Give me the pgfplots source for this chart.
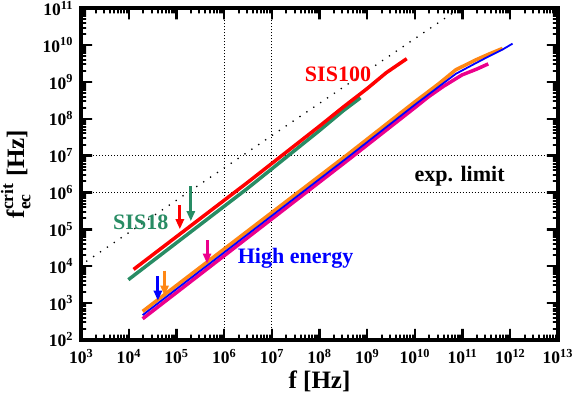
\documentclass[border=0pt]{standalone}
\usepackage{fontspec}
\setmainfont{Liberation Serif}
\usepackage{amsmath}
\usepackage{pgfplots}
\pgfplotsset{compat=1.18}
\usetikzlibrary{arrows.meta}
\definecolor{sisgreen}{RGB}{40,140,100}
\definecolor{heorange}{RGB}{255,135,20}
\newcommand{\tl}[1]{\textbf{10\textsuperscript{#1}}}
\begin{document}
\begin{tikzpicture}
\begin{loglogaxis}[
  scale only axis, width=476pt, height=331pt,
  xmin=1e3, xmax=1e13, ymin=1e2, ymax=1e11,
  xtick={1e3,1e4,1e5,1e6,1e7,1e8,1e9,1e10,1e11,1e12,1e13},
  xticklabels={\tl{3},\tl{4},\tl{5},\tl{6},\tl{7},\tl{8},\tl{9},\tl{10},\tl{11},\tl{12},\tl{13}},
  ytick={1e2,1e3,1e4,1e5,1e6,1e7,1e8,1e9,1e10,1e11},
  yticklabels={\tl{2},\tl{3},\tl{4},\tl{5},\tl{6},\tl{7},\tl{8},\tl{9},\tl{10},\tl{11}},
  tick align=inside,
  major tick length=0pt, minor tick length=0pt,
  ticklabel style={font=\fontsize{17.5}{17.5}\selectfont, inner sep=1pt},
  xticklabel style={yshift=-8pt},
  yticklabel style={xshift=-7pt},
  xlabel={\textbf{f [Hz]}},
  ylabel={$\textbf{f}_{\textbf{ec}}^{\textbf{crit}}$ \textbf{[Hz]}},
  label style={font=\fontsize{25}{25}\selectfont, inner sep=1pt},
  xlabel style={yshift=-5pt},
  ylabel style={yshift=10pt},
  clip=false,
]
% major ticks
\addplot[black, line width=2.5pt, line join=bevel, forget plot] coordinates {
 (1e3,100)(1e4,100)(1e4,199)(1e4,100)(1e5,100)(1e5,199)(1e5,100)(1e6,100)(1e6,199)(1e6,100)
 (1e7,100)(1e7,199)(1e7,100)(1e8,100)(1e8,199)(1e8,100)(1e9,100)(1e9,199)(1e9,100)
 (1e10,100)(1e10,199)(1e10,100)(1e11,100)(1e11,199)(1e11,100)(1e12,100)(1e12,199)(1e12,100)(1e13,100)};
\addplot[black, line width=2.5pt, line join=bevel, forget plot] coordinates {
 (1e3,1e11)(1e4,1e11)(1e4,5.03e10)(1e4,1e11)(1e5,1e11)(1e5,5.03e10)(1e5,1e11)(1e6,1e11)(1e6,5.03e10)(1e6,1e11)
 (1e7,1e11)(1e7,5.03e10)(1e7,1e11)(1e8,1e11)(1e8,5.03e10)(1e8,1e11)(1e9,1e11)(1e9,5.03e10)(1e9,1e11)
 (1e10,1e11)(1e10,5.03e10)(1e10,1e11)(1e11,1e11)(1e11,5.03e10)(1e11,1e11)(1e12,1e11)(1e12,5.03e10)(1e12,1e11)(1e13,1e11)};
\addplot[black, line width=2.5pt, line join=bevel, forget plot] coordinates {
 (1e3,1e2)(1e3,1e3)(1.7e3,1e3)(1e3,1e3)(1e3,1e4)(1.7e3,1e4)(1e3,1e4)(1e3,1e5)(1.7e3,1e5)(1e3,1e5)
 (1e3,1e6)(1.7e3,1e6)(1e3,1e6)(1e3,1e7)(1.7e3,1e7)(1e3,1e7)(1e3,1e8)(1.7e3,1e8)(1e3,1e8)
 (1e3,1e9)(1.7e3,1e9)(1e3,1e9)(1e3,1e10)(1.7e3,1e10)(1e3,1e10)(1e3,1e11)};
\addplot[black, line width=2.5pt, line join=bevel, forget plot] coordinates {
 (1e13,1e2)(1e13,1e3)(5.88e12,1e3)(1e13,1e3)(1e13,1e4)(5.88e12,1e4)(1e13,1e4)(1e13,1e5)(5.88e12,1e5)(1e13,1e5)
 (1e13,1e6)(5.88e12,1e6)(1e13,1e6)(1e13,1e7)(5.88e12,1e7)(1e13,1e7)(1e13,1e8)(5.88e12,1e8)(1e13,1e8)
 (1e13,1e9)(5.88e12,1e9)(1e13,1e9)(1e13,1e10)(5.88e12,1e10)(1e13,1e10)(1e13,1e11)};
% minor ticks, bottom
\addplot[black, line width=2pt, line join=bevel, forget plot] coordinates {
 (2e3,100)(2e3,137)(2e3,100)(3e3,100)(3e3,137)(3e3,100)(4e3,100)(4e3,137)(4e3,100)(5e3,100)(5e3,137)(5e3,100)(6e3,100)(6e3,137)(6e3,100)(7e3,100)(7e3,137)(7e3,100)(8e3,100)(8e3,137)(8e3,100)(9e3,100)(9e3,137)(9e3,100)
 (2e4,100)(2e4,137)(2e4,100)(3e4,100)(3e4,137)(3e4,100)(4e4,100)(4e4,137)(4e4,100)(5e4,100)(5e4,137)(5e4,100)(6e4,100)(6e4,137)(6e4,100)(7e4,100)(7e4,137)(7e4,100)(8e4,100)(8e4,137)(8e4,100)(9e4,100)(9e4,137)(9e4,100)
 (2e5,100)(2e5,137)(2e5,100)(3e5,100)(3e5,137)(3e5,100)(4e5,100)(4e5,137)(4e5,100)(5e5,100)(5e5,137)(5e5,100)(6e5,100)(6e5,137)(6e5,100)(7e5,100)(7e5,137)(7e5,100)(8e5,100)(8e5,137)(8e5,100)(9e5,100)(9e5,137)(9e5,100)
 (2e6,100)(2e6,137)(2e6,100)(3e6,100)(3e6,137)(3e6,100)(4e6,100)(4e6,137)(4e6,100)(5e6,100)(5e6,137)(5e6,100)(6e6,100)(6e6,137)(6e6,100)(7e6,100)(7e6,137)(7e6,100)(8e6,100)(8e6,137)(8e6,100)(9e6,100)(9e6,137)(9e6,100)
 (2e7,100)(2e7,137)(2e7,100)(3e7,100)(3e7,137)(3e7,100)(4e7,100)(4e7,137)(4e7,100)(5e7,100)(5e7,137)(5e7,100)(6e7,100)(6e7,137)(6e7,100)(7e7,100)(7e7,137)(7e7,100)(8e7,100)(8e7,137)(8e7,100)(9e7,100)(9e7,137)(9e7,100)
 (2e8,100)(2e8,137)(2e8,100)(3e8,100)(3e8,137)(3e8,100)(4e8,100)(4e8,137)(4e8,100)(5e8,100)(5e8,137)(5e8,100)(6e8,100)(6e8,137)(6e8,100)(7e8,100)(7e8,137)(7e8,100)(8e8,100)(8e8,137)(8e8,100)(9e8,100)(9e8,137)(9e8,100)
 (2e9,100)(2e9,137)(2e9,100)(3e9,100)(3e9,137)(3e9,100)(4e9,100)(4e9,137)(4e9,100)(5e9,100)(5e9,137)(5e9,100)(6e9,100)(6e9,137)(6e9,100)(7e9,100)(7e9,137)(7e9,100)(8e9,100)(8e9,137)(8e9,100)(9e9,100)(9e9,137)(9e9,100)
 (2e10,100)(2e10,137)(2e10,100)(3e10,100)(3e10,137)(3e10,100)(4e10,100)(4e10,137)(4e10,100)(5e10,100)(5e10,137)(5e10,100)(6e10,100)(6e10,137)(6e10,100)(7e10,100)(7e10,137)(7e10,100)(8e10,100)(8e10,137)(8e10,100)(9e10,100)(9e10,137)(9e10,100)
 (2e11,100)(2e11,137)(2e11,100)(3e11,100)(3e11,137)(3e11,100)(4e11,100)(4e11,137)(4e11,100)(5e11,100)(5e11,137)(5e11,100)(6e11,100)(6e11,137)(6e11,100)(7e11,100)(7e11,137)(7e11,100)(8e11,100)(8e11,137)(8e11,100)(9e11,100)(9e11,137)(9e11,100)
 (2e12,100)(2e12,137)(2e12,100)(3e12,100)(3e12,137)(3e12,100)(4e12,100)(4e12,137)(4e12,100)(5e12,100)(5e12,137)(5e12,100)(6e12,100)(6e12,137)(6e12,100)(7e12,100)(7e12,137)(7e12,100)(8e12,100)(8e12,137)(8e12,100)(9e12,100)(9e12,137)(9e12,100)};
% minor ticks, top
\addplot[black, line width=2pt, line join=bevel, forget plot] coordinates {
 (2e3,1e11)(2e3,7.3e10)(2e3,1e11)(3e3,1e11)(3e3,7.3e10)(3e3,1e11)(4e3,1e11)(4e3,7.3e10)(4e3,1e11)(5e3,1e11)(5e3,7.3e10)(5e3,1e11)(6e3,1e11)(6e3,7.3e10)(6e3,1e11)(7e3,1e11)(7e3,7.3e10)(7e3,1e11)(8e3,1e11)(8e3,7.3e10)(8e3,1e11)(9e3,1e11)(9e3,7.3e10)(9e3,1e11)
 (2e4,1e11)(2e4,7.3e10)(2e4,1e11)(3e4,1e11)(3e4,7.3e10)(3e4,1e11)(4e4,1e11)(4e4,7.3e10)(4e4,1e11)(5e4,1e11)(5e4,7.3e10)(5e4,1e11)(6e4,1e11)(6e4,7.3e10)(6e4,1e11)(7e4,1e11)(7e4,7.3e10)(7e4,1e11)(8e4,1e11)(8e4,7.3e10)(8e4,1e11)(9e4,1e11)(9e4,7.3e10)(9e4,1e11)
 (2e5,1e11)(2e5,7.3e10)(2e5,1e11)(3e5,1e11)(3e5,7.3e10)(3e5,1e11)(4e5,1e11)(4e5,7.3e10)(4e5,1e11)(5e5,1e11)(5e5,7.3e10)(5e5,1e11)(6e5,1e11)(6e5,7.3e10)(6e5,1e11)(7e5,1e11)(7e5,7.3e10)(7e5,1e11)(8e5,1e11)(8e5,7.3e10)(8e5,1e11)(9e5,1e11)(9e5,7.3e10)(9e5,1e11)
 (2e6,1e11)(2e6,7.3e10)(2e6,1e11)(3e6,1e11)(3e6,7.3e10)(3e6,1e11)(4e6,1e11)(4e6,7.3e10)(4e6,1e11)(5e6,1e11)(5e6,7.3e10)(5e6,1e11)(6e6,1e11)(6e6,7.3e10)(6e6,1e11)(7e6,1e11)(7e6,7.3e10)(7e6,1e11)(8e6,1e11)(8e6,7.3e10)(8e6,1e11)(9e6,1e11)(9e6,7.3e10)(9e6,1e11)
 (2e7,1e11)(2e7,7.3e10)(2e7,1e11)(3e7,1e11)(3e7,7.3e10)(3e7,1e11)(4e7,1e11)(4e7,7.3e10)(4e7,1e11)(5e7,1e11)(5e7,7.3e10)(5e7,1e11)(6e7,1e11)(6e7,7.3e10)(6e7,1e11)(7e7,1e11)(7e7,7.3e10)(7e7,1e11)(8e7,1e11)(8e7,7.3e10)(8e7,1e11)(9e7,1e11)(9e7,7.3e10)(9e7,1e11)
 (2e8,1e11)(2e8,7.3e10)(2e8,1e11)(3e8,1e11)(3e8,7.3e10)(3e8,1e11)(4e8,1e11)(4e8,7.3e10)(4e8,1e11)(5e8,1e11)(5e8,7.3e10)(5e8,1e11)(6e8,1e11)(6e8,7.3e10)(6e8,1e11)(7e8,1e11)(7e8,7.3e10)(7e8,1e11)(8e8,1e11)(8e8,7.3e10)(8e8,1e11)(9e8,1e11)(9e8,7.3e10)(9e8,1e11)
 (2e9,1e11)(2e9,7.3e10)(2e9,1e11)(3e9,1e11)(3e9,7.3e10)(3e9,1e11)(4e9,1e11)(4e9,7.3e10)(4e9,1e11)(5e9,1e11)(5e9,7.3e10)(5e9,1e11)(6e9,1e11)(6e9,7.3e10)(6e9,1e11)(7e9,1e11)(7e9,7.3e10)(7e9,1e11)(8e9,1e11)(8e9,7.3e10)(8e9,1e11)(9e9,1e11)(9e9,7.3e10)(9e9,1e11)
 (2e10,1e11)(2e10,7.3e10)(2e10,1e11)(3e10,1e11)(3e10,7.3e10)(3e10,1e11)(4e10,1e11)(4e10,7.3e10)(4e10,1e11)(5e10,1e11)(5e10,7.3e10)(5e10,1e11)(6e10,1e11)(6e10,7.3e10)(6e10,1e11)(7e10,1e11)(7e10,7.3e10)(7e10,1e11)(8e10,1e11)(8e10,7.3e10)(8e10,1e11)(9e10,1e11)(9e10,7.3e10)(9e10,1e11)
 (2e11,1e11)(2e11,7.3e10)(2e11,1e11)(3e11,1e11)(3e11,7.3e10)(3e11,1e11)(4e11,1e11)(4e11,7.3e10)(4e11,1e11)(5e11,1e11)(5e11,7.3e10)(5e11,1e11)(6e11,1e11)(6e11,7.3e10)(6e11,1e11)(7e11,1e11)(7e11,7.3e10)(7e11,1e11)(8e11,1e11)(8e11,7.3e10)(8e11,1e11)(9e11,1e11)(9e11,7.3e10)(9e11,1e11)
 (2e12,1e11)(2e12,7.3e10)(2e12,1e11)(3e12,1e11)(3e12,7.3e10)(3e12,1e11)(4e12,1e11)(4e12,7.3e10)(4e12,1e11)(5e12,1e11)(5e12,7.3e10)(5e12,1e11)(6e12,1e11)(6e12,7.3e10)(6e12,1e11)(7e12,1e11)(7e12,7.3e10)(7e12,1e11)(8e12,1e11)(8e12,7.3e10)(8e12,1e11)(9e12,1e11)(9e12,7.3e10)(9e12,1e11)};
% minor ticks, left
\addplot[black, line width=2pt, line join=bevel, forget plot] coordinates {
 (1e3,2e2)(1.27e3,2e2)(1e3,2e2)(1e3,3e2)(1.27e3,3e2)(1e3,3e2)(1e3,4e2)(1.27e3,4e2)(1e3,4e2)(1e3,5e2)(1.27e3,5e2)(1e3,5e2)(1e3,6e2)(1.27e3,6e2)(1e3,6e2)(1e3,7e2)(1.27e3,7e2)(1e3,7e2)(1e3,8e2)(1.27e3,8e2)(1e3,8e2)(1e3,9e2)(1.27e3,9e2)(1e3,9e2)
 (1e3,2e3)(1.27e3,2e3)(1e3,2e3)(1e3,3e3)(1.27e3,3e3)(1e3,3e3)(1e3,4e3)(1.27e3,4e3)(1e3,4e3)(1e3,5e3)(1.27e3,5e3)(1e3,5e3)(1e3,6e3)(1.27e3,6e3)(1e3,6e3)(1e3,7e3)(1.27e3,7e3)(1e3,7e3)(1e3,8e3)(1.27e3,8e3)(1e3,8e3)(1e3,9e3)(1.27e3,9e3)(1e3,9e3)
 (1e3,2e4)(1.27e3,2e4)(1e3,2e4)(1e3,3e4)(1.27e3,3e4)(1e3,3e4)(1e3,4e4)(1.27e3,4e4)(1e3,4e4)(1e3,5e4)(1.27e3,5e4)(1e3,5e4)(1e3,6e4)(1.27e3,6e4)(1e3,6e4)(1e3,7e4)(1.27e3,7e4)(1e3,7e4)(1e3,8e4)(1.27e3,8e4)(1e3,8e4)(1e3,9e4)(1.27e3,9e4)(1e3,9e4)
 (1e3,2e5)(1.27e3,2e5)(1e3,2e5)(1e3,3e5)(1.27e3,3e5)(1e3,3e5)(1e3,4e5)(1.27e3,4e5)(1e3,4e5)(1e3,5e5)(1.27e3,5e5)(1e3,5e5)(1e3,6e5)(1.27e3,6e5)(1e3,6e5)(1e3,7e5)(1.27e3,7e5)(1e3,7e5)(1e3,8e5)(1.27e3,8e5)(1e3,8e5)(1e3,9e5)(1.27e3,9e5)(1e3,9e5)
 (1e3,2e6)(1.27e3,2e6)(1e3,2e6)(1e3,3e6)(1.27e3,3e6)(1e3,3e6)(1e3,4e6)(1.27e3,4e6)(1e3,4e6)(1e3,5e6)(1.27e3,5e6)(1e3,5e6)(1e3,6e6)(1.27e3,6e6)(1e3,6e6)(1e3,7e6)(1.27e3,7e6)(1e3,7e6)(1e3,8e6)(1.27e3,8e6)(1e3,8e6)(1e3,9e6)(1.27e3,9e6)(1e3,9e6)
 (1e3,2e7)(1.27e3,2e7)(1e3,2e7)(1e3,3e7)(1.27e3,3e7)(1e3,3e7)(1e3,4e7)(1.27e3,4e7)(1e3,4e7)(1e3,5e7)(1.27e3,5e7)(1e3,5e7)(1e3,6e7)(1.27e3,6e7)(1e3,6e7)(1e3,7e7)(1.27e3,7e7)(1e3,7e7)(1e3,8e7)(1.27e3,8e7)(1e3,8e7)(1e3,9e7)(1.27e3,9e7)(1e3,9e7)
 (1e3,2e8)(1.27e3,2e8)(1e3,2e8)(1e3,3e8)(1.27e3,3e8)(1e3,3e8)(1e3,4e8)(1.27e3,4e8)(1e3,4e8)(1e3,5e8)(1.27e3,5e8)(1e3,5e8)(1e3,6e8)(1.27e3,6e8)(1e3,6e8)(1e3,7e8)(1.27e3,7e8)(1e3,7e8)(1e3,8e8)(1.27e3,8e8)(1e3,8e8)(1e3,9e8)(1.27e3,9e8)(1e3,9e8)
 (1e3,2e9)(1.27e3,2e9)(1e3,2e9)(1e3,3e9)(1.27e3,3e9)(1e3,3e9)(1e3,4e9)(1.27e3,4e9)(1e3,4e9)(1e3,5e9)(1.27e3,5e9)(1e3,5e9)(1e3,6e9)(1.27e3,6e9)(1e3,6e9)(1e3,7e9)(1.27e3,7e9)(1e3,7e9)(1e3,8e9)(1.27e3,8e9)(1e3,8e9)(1e3,9e9)(1.27e3,9e9)(1e3,9e9)
 (1e3,2e10)(1.27e3,2e10)(1e3,2e10)(1e3,3e10)(1.27e3,3e10)(1e3,3e10)(1e3,4e10)(1.27e3,4e10)(1e3,4e10)(1e3,5e10)(1.27e3,5e10)(1e3,5e10)(1e3,6e10)(1.27e3,6e10)(1e3,6e10)(1e3,7e10)(1.27e3,7e10)(1e3,7e10)(1e3,8e10)(1.27e3,8e10)(1e3,8e10)(1e3,9e10)(1.27e3,9e10)(1e3,9e10)};
% minor ticks, right
\addplot[black, line width=2pt, line join=bevel, forget plot] coordinates {
 (1e13,2e2)(7.85e12,2e2)(1e13,2e2)(1e13,3e2)(7.85e12,3e2)(1e13,3e2)(1e13,4e2)(7.85e12,4e2)(1e13,4e2)(1e13,5e2)(7.85e12,5e2)(1e13,5e2)(1e13,6e2)(7.85e12,6e2)(1e13,6e2)(1e13,7e2)(7.85e12,7e2)(1e13,7e2)(1e13,8e2)(7.85e12,8e2)(1e13,8e2)(1e13,9e2)(7.85e12,9e2)(1e13,9e2)
 (1e13,2e3)(7.85e12,2e3)(1e13,2e3)(1e13,3e3)(7.85e12,3e3)(1e13,3e3)(1e13,4e3)(7.85e12,4e3)(1e13,4e3)(1e13,5e3)(7.85e12,5e3)(1e13,5e3)(1e13,6e3)(7.85e12,6e3)(1e13,6e3)(1e13,7e3)(7.85e12,7e3)(1e13,7e3)(1e13,8e3)(7.85e12,8e3)(1e13,8e3)(1e13,9e3)(7.85e12,9e3)(1e13,9e3)
 (1e13,2e4)(7.85e12,2e4)(1e13,2e4)(1e13,3e4)(7.85e12,3e4)(1e13,3e4)(1e13,4e4)(7.85e12,4e4)(1e13,4e4)(1e13,5e4)(7.85e12,5e4)(1e13,5e4)(1e13,6e4)(7.85e12,6e4)(1e13,6e4)(1e13,7e4)(7.85e12,7e4)(1e13,7e4)(1e13,8e4)(7.85e12,8e4)(1e13,8e4)(1e13,9e4)(7.85e12,9e4)(1e13,9e4)
 (1e13,2e5)(7.85e12,2e5)(1e13,2e5)(1e13,3e5)(7.85e12,3e5)(1e13,3e5)(1e13,4e5)(7.85e12,4e5)(1e13,4e5)(1e13,5e5)(7.85e12,5e5)(1e13,5e5)(1e13,6e5)(7.85e12,6e5)(1e13,6e5)(1e13,7e5)(7.85e12,7e5)(1e13,7e5)(1e13,8e5)(7.85e12,8e5)(1e13,8e5)(1e13,9e5)(7.85e12,9e5)(1e13,9e5)
 (1e13,2e6)(7.85e12,2e6)(1e13,2e6)(1e13,3e6)(7.85e12,3e6)(1e13,3e6)(1e13,4e6)(7.85e12,4e6)(1e13,4e6)(1e13,5e6)(7.85e12,5e6)(1e13,5e6)(1e13,6e6)(7.85e12,6e6)(1e13,6e6)(1e13,7e6)(7.85e12,7e6)(1e13,7e6)(1e13,8e6)(7.85e12,8e6)(1e13,8e6)(1e13,9e6)(7.85e12,9e6)(1e13,9e6)
 (1e13,2e7)(7.85e12,2e7)(1e13,2e7)(1e13,3e7)(7.85e12,3e7)(1e13,3e7)(1e13,4e7)(7.85e12,4e7)(1e13,4e7)(1e13,5e7)(7.85e12,5e7)(1e13,5e7)(1e13,6e7)(7.85e12,6e7)(1e13,6e7)(1e13,7e7)(7.85e12,7e7)(1e13,7e7)(1e13,8e7)(7.85e12,8e7)(1e13,8e7)(1e13,9e7)(7.85e12,9e7)(1e13,9e7)
 (1e13,2e8)(7.85e12,2e8)(1e13,2e8)(1e13,3e8)(7.85e12,3e8)(1e13,3e8)(1e13,4e8)(7.85e12,4e8)(1e13,4e8)(1e13,5e8)(7.85e12,5e8)(1e13,5e8)(1e13,6e8)(7.85e12,6e8)(1e13,6e8)(1e13,7e8)(7.85e12,7e8)(1e13,7e8)(1e13,8e8)(7.85e12,8e8)(1e13,8e8)(1e13,9e8)(7.85e12,9e8)(1e13,9e8)
 (1e13,2e9)(7.85e12,2e9)(1e13,2e9)(1e13,3e9)(7.85e12,3e9)(1e13,3e9)(1e13,4e9)(7.85e12,4e9)(1e13,4e9)(1e13,5e9)(7.85e12,5e9)(1e13,5e9)(1e13,6e9)(7.85e12,6e9)(1e13,6e9)(1e13,7e9)(7.85e12,7e9)(1e13,7e9)(1e13,8e9)(7.85e12,8e9)(1e13,8e9)(1e13,9e9)(7.85e12,9e9)(1e13,9e9)
 (1e13,2e10)(7.85e12,2e10)(1e13,2e10)(1e13,3e10)(7.85e12,3e10)(1e13,3e10)(1e13,4e10)(7.85e12,4e10)(1e13,4e10)(1e13,5e10)(7.85e12,5e10)(1e13,5e10)(1e13,6e10)(7.85e12,6e10)(1e13,6e10)(1e13,7e10)(7.85e12,7e10)(1e13,7e10)(1e13,8e10)(7.85e12,8e10)(1e13,8e10)(1e13,9e10)(7.85e12,9e10)(1e13,9e10)};
% frame
\addplot[black, line width=4pt, line cap=square, line join=miter, forget plot] coordinates {(1e3,1e2) (1e13,1e2) (1e13,1e11) (1e3,1e11) (1e3,1e2) (1e13,1e2)};
% reference lines
\addplot[black, line width=1pt, dash pattern=on 1pt off 2pt] coordinates {(1e6,1e2) (1e6,1e11)};
\addplot[black, line width=1pt, dash pattern=on 1pt off 2pt] coordinates {(1e7,1e2) (1e7,1e11)};
\addplot[black, line width=1pt, dash pattern=on 1pt off 2pt] coordinates {(1e3,1e6) (1e13,1e6)};
\addplot[black, line width=1pt, dash pattern=on 1pt off 2pt] coordinates {(1e3,1e7) (1e13,1e7)};
\addplot[black, line width=1.3pt, dash pattern=on 1.3pt off 7pt] coordinates {(1.276e3,1.334e4) (6.03e10,7.24e10)};
% SIS18
\addplot[sisgreen, line width=3.5pt] coordinates {
 (9.77e3,4.27e3) (3.09e6,1.288e6) (1e8,4.79e7) (3.162e8,1.66e8) (7.24e8,3.72e8)};
% SIS100
\addplot[red, line width=3.5pt] coordinates {
 (1.259e4,8.13e3) (3.09e6,1.862e6) (1e8,6.31e7) (3.162e8,2.089e8) (1e9,6.61e8) (2.512e9,1.778e9) (6.76e9,4.27e9)};
% high energy
\addplot[magenta, line width=3.5pt] coordinates {
 (1.95e4,372) (3.98e8,7.59e6) (1e10,2.0e8) (1.95e10,3.98e8) (3.98e10,7.59e8) (9.77e10,1.55e9) (2.0e11,2.24e9) (3.47e11,3.09e9)};
\addplot[heorange, line width=3.5pt] coordinates {
 (1.95e4,589) (3.98e8,1.096e7) (1e10,2.88e8) (3.162e10,8.91e8) (7.24e10,2.14e9) (1.905e11,3.98e9) (3.63e11,5.75e9) (6.92e11,8.13e9)};
\addplot[blue, line width=1.8pt] coordinates {
 (1.95e4,468) (3.98e8,9.12e6) (1e10,2.40e8) (3.162e10,7.41e8) (7.24e10,1.66e9) (1.905e11,3.24e9) (3.63e11,5.01e9) (6.92e11,7.59e9) (1.122e12,1.096e10)};
% arrows
\addplot[red, line width=3pt, -{Triangle[width=8pt,length=10pt]}] coordinates {(1.175e5,4.47e5) (1.175e5,1e5)};
\addplot[sisgreen, line width=3pt, -{Triangle[width=8pt,length=10pt]}] coordinates {(2.0e5,1.48e6) (2.0e5,1.66e5)};
\addplot[blue, line width=3pt, -{Triangle[width=8pt,length=10pt]}] coordinates {(4.07e4,5.25e3) (4.07e4,1.15e3)};
\addplot[heorange, line width=3pt, -{Triangle[width=8pt,length=10pt]}] coordinates {(5.62e4,7.59e3) (5.62e4,1.58e3)};
\addplot[magenta, line width=3pt, -{Triangle[width=8pt,length=10pt]}] coordinates {(4.37e5,5.01e4) (4.37e5,1.17e4)};
% labels
\node[red, anchor=base, font=\fontsize{22}{22}\selectfont\bfseries] at (axis cs:2.45e8,1e9) {SIS100};
\node[sisgreen, anchor=base, font=\fontsize{22}{22}\selectfont\bfseries] at (axis cs:1.78e4,1e5) {SIS18};
\node[blue, anchor=base, font=\fontsize{22}{22}\selectfont\bfseries] at (axis cs:3.16e7,1.17e4) {High energy};
\node[black, anchor=base, font=\fontsize{22}{22}\selectfont\bfseries] at (axis cs:8.7e10,2.04e6) {exp. limit};
\end{loglogaxis}
\end{tikzpicture}
\end{document}
